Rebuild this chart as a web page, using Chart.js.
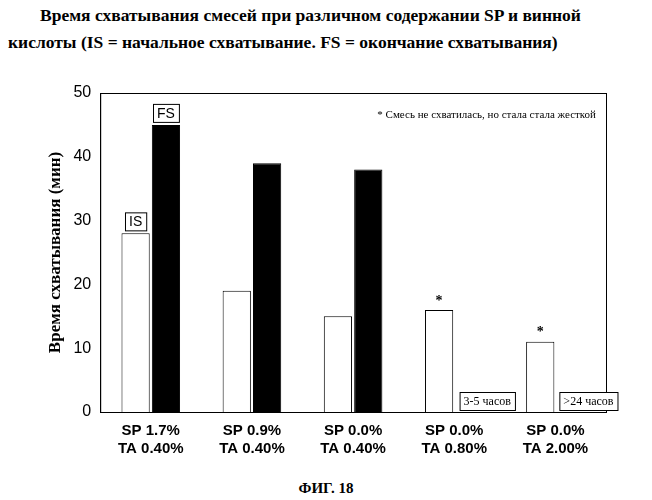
<!DOCTYPE html>
<html><head><meta charset="utf-8">
<script src="https://cdn.jsdelivr.net/npm/chart.js@4/dist/chart.umd.min.js"></script>
<style>body{margin:0;background:#fff}#w{position:relative;width:652px;height:500px}
.t{position:absolute;font-family:"Liberation Serif",serif;font-weight:bold;color:#000}</style>
</head><body><div id="w">
<div class="t" style="left:8px;top:2px;width:640px;font-size:17.5px;line-height:27px"><span style="padding-left:32px">Время схватывания смесей при различном содержании SP и винной</span><br>кислоты (IS = начальное схватывание. FS = окончание схватывания)</div>
<div style="position:absolute;left:0;top:60px;width:652px;height:420px"><canvas id="c"></canvas></div>
<div class="t" style="left:0;top:480px;width:652px;text-align:center;font-size:15px">ФИГ. 18</div>
</div>
<script>
const categories=[["SP 1.7%","TA 0.40%"],["SP 0.9%","TA 0.40%"],["SP 0.0%","TA 0.40%"],["SP 0.0%","TA 0.80%"],["SP 0.0%","TA 2.00%"]];
const isValues=[28,19,15,16,11];
const fsValues=[45,39,38,null,null];
const fsNotes=[null,null,null,"3-5 часов",">24 часов"];
const starred=[false,false,false,true,true];
const note="* Смесь не схватилась, но стала стала жесткой";
const plug={id:'ann',afterDatasetsDraw(ch){
 const c=ch.ctx,y=ch.scales.y,a=ch.chartArea;
 const m0=ch.getDatasetMeta(0),m1=ch.getDatasetMeta(1);
 c.save();c.fillStyle='#000';c.strokeStyle='#000';c.lineWidth=1;
 c.strokeRect(a.left+0.5,a.top+0.5,a.right-a.left,a.bottom-a.top);
 function box(t,cx,by,font){c.font=font;const w=c.measureText(t).width+8,h=18;
  c.fillStyle='#fff';c.fillRect(cx-w/2,by-h,w,h);c.strokeRect(cx-w/2+0.5,by-h+0.5,w,h);
  c.fillStyle='#000';c.textAlign='center';c.textBaseline='middle';c.fillText(t,cx,by-h/2+1);}
 box('IS',m0.data[0].x,m0.data[0].y-3,'14px "Liberation Sans"');
 box('FS',m1.data[0].x,m1.data[0].y-3,'14px "Liberation Sans"');
 fsNotes.forEach((n,i)=>{if(n){box(n,ch.scales.x.getPixelForValue(i)+33,a.bottom-2,'12px "Liberation Serif"');}});
 starred.forEach((s,i)=>{if(s){c.font='bold 14px "Liberation Serif"';c.textAlign='center';c.textBaseline='bottom';c.fillText('*',m0.data[i].x,m0.data[i].y-2);}});
 c.font='11px "Liberation Serif"';c.textAlign='right';c.textBaseline='middle';c.fillText(note,a.right-10,a.top+22);
 c.restore();}};
new Chart(document.getElementById('c'),{type:'bar',
 data:{labels:categories,datasets:[
  {data:isValues,backgroundColor:'#fff',borderColor:'#000',borderWidth:1,categoryPercentage:0.6,barPercentage:0.93},
  {data:fsValues,backgroundColor:'#000',borderColor:'#000',borderWidth:1,categoryPercentage:0.6,barPercentage:0.93}]},
 options:{responsive:true,maintainAspectRatio:false,animation:false,
  layout:{padding:{left:41,right:46,top:33,bottom:12}},
  plugins:{legend:{display:false},tooltip:{enabled:false}},
  scales:{
   x:{grid:{display:false,drawTicks:false},border:{color:'#000'},
      ticks:{color:'#000',font:{family:'Liberation Sans',weight:'bold',size:15},padding:10}},
   y:{min:0,max:50,ticks:{stepSize:10,color:'#000',font:{family:'Liberation Sans',size:16},padding:4},
      grid:{display:false,drawTicks:true,tickLength:5,tickColor:'#000'},border:{color:'#000'},
      title:{display:true,text:'Время схватывания (мин)',color:'#000',font:{family:'Liberation Serif',weight:'bold',size:17}}}}},
 plugins:[plug]});
</script></body></html>
